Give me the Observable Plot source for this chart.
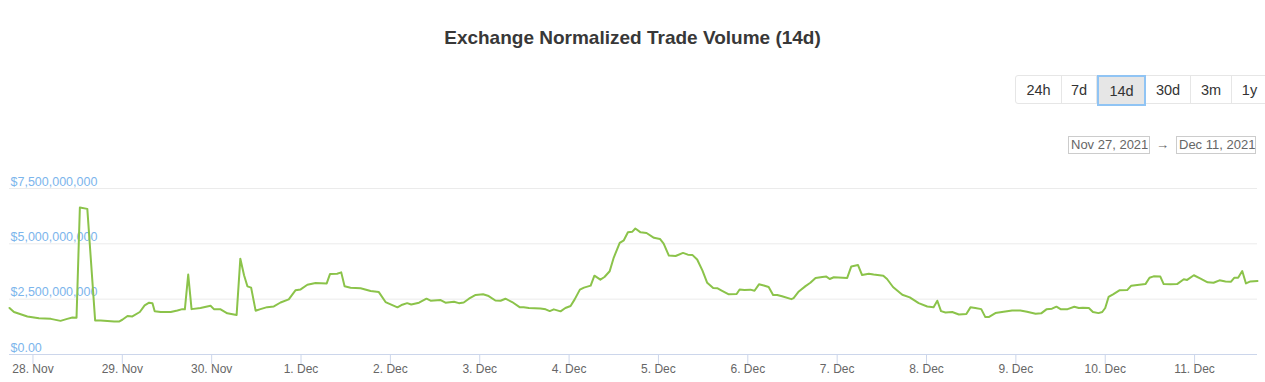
<!DOCTYPE html>
<html><head><meta charset="utf-8">
<script src="https://cdn.jsdelivr.net/npm/d3@7"></script>
<script src="https://cdn.jsdelivr.net/npm/@observablehq/plot@0.6"></script>
<style>
html,body{margin:0;padding:0;background:#fff;}
body{font-family:"Liberation Sans",Arial,Helvetica,sans-serif;}
#wrap{position:relative;width:1265px;height:382px;overflow:hidden;}
#head{position:relative;height:160px;}
#title{position:absolute;left:0;top:27px;width:1265px;text-align:center;font-size:19px;font-weight:bold;color:#383838;}
#btns{position:absolute;left:1015px;top:75px;height:29px;display:flex;border:1px solid #e6e6e6;border-radius:3px;box-sizing:border-box;}
#btns div{box-sizing:border-box;height:100%;display:flex;align-items:center;justify-content:center;font-size:14.5px;color:#333;border-right:1px solid #e6e6e6;}
#btns div.sel{background:#e6e6e6;border:2px solid #90c4f4;height:31px;margin-top:-1px;}
.dbox{position:absolute;top:136px;height:18px;box-sizing:border-box;border:1px solid #cccccc;font-size:13px;color:#666;line-height:16px;padding:0 2px;white-space:nowrap;}
#arrow{position:absolute;left:1156px;top:137px;font-size:13px;color:#666;}
#chart{position:absolute;left:0;top:160px;}
</style>
</head><body>
<div id="wrap">
  <div id="head">
    <div id="title"></div>
    <div id="btns"></div>
    <div class="dbox" id="d1" style="left:1068px;width:82px;"></div>
    <div id="arrow">→</div>
    <div class="dbox" id="d2" style="left:1176px;width:80px;"></div>
  </div>
  <div id="chart"></div>
</div>
<script>
const titleText = "Exchange Normalized Trade Volume (14d)";
const rangeButtons = ["24h", "7d", "14d", "30d", "3m", "1y"];
const buttonWidths = [46, 35, 49, 45, 41, 36];
const selectedButton = "14d";
const rangeFrom = "Nov 27, 2021";
const rangeTo = "Dec 11, 2021";

// hours since 2021-11-28 00:00 UTC
const hours = [
  -6.3,-5.1,-1.5,1.6,4.8,7.4,9.2,10.6,11.7,12.6,14.6,16.7,18.2,21.8,23.1,24.0,25.4,26.7,28.7,30.0,
  31.2,32.1,32.7,34.3,37.0,38.8,40.1,40.8,41.7,42.6,45.0,47.7,48.6,50.4,52.2,54.7,55.7,56.7,57.6,58.6,
  59.8,61.1,62.9,64.7,66.5,68.7,70.5,
  71.9,73.7,75.9,78.9,79.8,81.7,82.8,83.7,85.3,88.0,90.7,92.9,94.7,97.9,99.2,100.5,101.6,103.7,105.7,106.8,
  109.5,110.8,113.1,114.4,115.7,117.1,118.9,120.9,122.4,124.2,125.6,126.9,128.7,130.8,131.8,133.2,136.3,137.7,138.8,139.9,
  141.7,143.0,144.4,145.5,146.9,148.0,149.8,150.8,
  152.4,153.5,154.9,156.0,157.6,158.7,159.8,161.0,161.8,163.2,164.8,166.8,168.4,169.4,170.8,172.6,174.6,175.9,177.1,178.4,
  179.8,181.1,182.7,183.9,185.1,186.9,189.0,189.8,191.1,192.7,193.8,195.0,196.3,197.6,198.8,199.9,201.2,203.7,204.3,205.7,
  207.5,208.8,210.2,212.0,213.1,214.0,215.1,218.7,219.8,221.6,222.7,224.5,225.8,228.4,229.4,231.0,233.5,235.5,237.9,
  240.2,241.9,242.9,243.9,245.1,246.9,248.7,250.7,251.8,253.1,254.7,255.8,256.7,258.5,260.7,263.0,265.2,267.0,269.3,270.8,
  272.2,273.7,274.9,276.0,277.9,279.7,280.9,282.0,283.6,284.7,286.2,287.2,288.0,288.9,290.1,291.8,293.9,295.0,296.6,298.8,
  299.9,301.0,302.8,303.7,305.5,307.3,309.1,310.0,311.8,313.6,315.5,317.1,318.7,320.3,321.8,322.7,323.7,324.8,325.8,327.0,
  328.9
];
// trade volume, billions USD
const volumes = [
  2.10,1.92,1.72,1.64,1.61,1.52,1.61,1.67,1.66,6.64,6.58,1.54,1.54,1.49,1.49,1.57,1.74,1.72,1.92,2.22,
  2.34,2.32,1.95,1.92,1.92,1.99,2.05,2.04,3.61,2.05,2.10,2.20,2.05,2.04,1.86,1.78,4.33,3.58,3.08,3.02,
  1.98,2.05,2.14,2.17,2.35,2.49,2.90,
  2.94,3.15,3.23,3.21,3.64,3.65,3.71,3.08,3.02,2.99,2.87,2.82,2.37,2.13,2.25,2.32,2.26,2.34,2.52,2.43,
  2.46,2.34,2.38,2.32,2.35,2.52,2.69,2.72,2.64,2.44,2.43,2.52,2.37,2.13,2.13,2.10,2.08,2.04,1.96,2.04,
  1.95,2.10,2.19,2.49,2.93,3.02,3.11,3.56,
  3.38,3.50,3.76,4.38,5.04,5.16,5.52,5.55,5.69,5.52,5.49,5.27,5.22,5.01,4.47,4.45,4.59,4.51,4.50,4.29,
  3.80,3.24,3.00,2.99,2.88,2.72,2.73,2.94,2.91,2.93,2.88,3.17,3.12,3.05,2.69,2.69,2.63,2.50,2.55,2.85,
  3.09,3.24,3.46,3.50,3.52,3.41,3.49,3.46,3.98,4.04,3.59,3.65,3.61,3.56,3.41,3.05,2.70,2.58,2.32,
  2.17,2.14,2.43,1.96,1.90,1.92,1.81,1.83,2.13,2.10,2.05,1.69,1.69,1.87,1.93,1.99,1.99,1.93,1.84,1.86,
  2.04,2.07,2.16,2.05,2.05,2.16,2.10,2.11,2.10,1.92,1.87,1.92,2.10,2.60,2.72,2.90,2.91,3.11,3.14,3.18,
  3.47,3.53,3.52,3.18,3.17,3.18,3.40,3.37,3.58,3.43,3.26,3.24,3.35,3.30,3.29,3.47,3.47,3.77,3.21,3.30,
  3.32
];
const yTicks = [0, 2500000000, 5000000000, 7500000000];
const xTickDays = ["2021-11-28","2021-11-29","2021-11-30","2021-12-01","2021-12-02","2021-12-03","2021-12-04",
  "2021-12-05","2021-12-06","2021-12-07","2021-12-08","2021-12-09","2021-12-10","2021-12-11"];
const baseTime = Date.UTC(2021, 10, 28);
const domainHours = [-6.3, 328.9];

// header
document.getElementById("title").textContent = titleText;
const btns = document.getElementById("btns");
rangeButtons.forEach((b, i) => {
  const d = document.createElement("div");
  d.textContent = b;
  d.style.width = buttonWidths[i] + "px";
  if (b === selectedButton) d.className = "sel";
  btns.appendChild(d);
});
document.getElementById("d1").textContent = rangeFrom;
document.getElementById("d2").textContent = rangeTo;

const toDate = h => new Date(baseTime + h * 3600e3);
const data = hours.map((h, i) => ({date: toDate(h), value: volumes[i] * 1e9}));
const xTicks = xTickDays.map(s => new Date(s + "T00:00:00Z"));
const fmtY = d => d === 0 ? "$0.00" : "$" + d3.format(",")(d);
const fmtX = d3.utcFormat("%-d. %b");

const chart = Plot.plot({
  width: 1265,
  height: 222,
  marginTop: 28,
  marginBottom: 28,
  marginLeft: 9,
  marginRight: 8,
  style: {fontFamily: "'Liberation Sans', Arial, Helvetica, sans-serif", fontSize: "12px", background: "#fff"},
  x: {type: "utc", domain: domainHours.map(toDate)},
  y: {domain: [0, 7500000000], axis: null},
  marks: [
    Plot.ruleY(yTicks.filter(d => d > 0), {stroke: "#ebebeb", strokeWidth: 1}),
    Plot.text(yTicks, {y: d => d, frameAnchor: "left", text: fmtY, textAnchor: "start", fill: "#7cb5ec", fontSize: 12.5, dx: 1, dy: -7}),
    Plot.ruleY([0], {stroke: "#ccd6eb", strokeWidth: 1}),
    Plot.axisX({ticks: xTicks, tickSize: 10, tickPadding: 0, stroke: "#ccd6eb", strokeOpacity: 1, tickFormat: fmtX, fill: "#666", fontSize: 12}),
    Plot.line(data, {x: "date", y: "value", stroke: "#8bc34a", strokeWidth: 2, curve: "linear"})
  ]
});
document.getElementById("chart").appendChild(chart);
</script>
</body></html>
